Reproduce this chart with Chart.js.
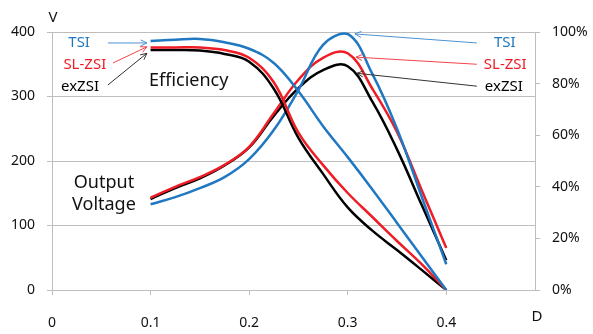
<!DOCTYPE html>
<html>
<head>
<meta charset="utf-8">
<script src="https://cdn.jsdelivr.net/npm/chart.js@4/dist/chart.umd.min.js"></script>
<style>
  html, body { margin:0; padding:0; background:#fff; }
  #wrap { width:593px; height:334px; }
</style>
</head>
<body>
<div id="wrap"><canvas id="chart" width="593" height="334"></canvas></div>
<script>
// duty ratio D
const dutyX = [0.1, 0.125, 0.15, 0.175, 0.2, 0.225, 0.25, 0.275, 0.3, 0.325, 0.35, 0.375, 0.4];
// efficiency (%), right axis
const effTSI   = [96.5, 97.0, 97.3, 96.0, 93.5, 88.0, 77.0, 63.5, 51.5, 39.0, 26.0, 13.0, 0];
const effSLZSI = [94.0, 94.0, 94.0, 93.0, 90.0, 80.5, 61.0, 48.4, 37.6, 28.3, 19.0, 10.0, 0];
const effExZSI = [93.0, 93.0, 92.8, 91.5, 88.5, 78.0, 59.0, 45.0, 32.0, 23.0, 15.5, 7.8, 0];
// output voltage (V), left axis
const voltTSI   = [133, 144, 158, 175, 203, 248, 310, 380, 397, 335, 250, 145, 40];
const voltSLZSI = [143, 160, 175, 194, 222, 274, 326, 360, 367, 312, 245, 155, 65];
const voltExZSI = [141, 158, 173, 193, 221, 270, 313, 341, 347, 292, 218, 132, 46];

const xTicks = [0, 0.1, 0.2, 0.3, 0.4];
const vTicks = [0, 100, 200, 300, 400];
const pctTicks = [0, 20, 40, 60, 80, 100];

const BLUE = '#1f78c1', RED = '#ee1c25', BLACK = '#000000';
const GRID = '#bdbdbd';
const FONT = "'Noto Sans', 'DejaVu Sans', sans-serif";

const pts = (ys) => dutyX.map((x, i) => ({x: x, y: ys[i]}));

function ds(label, ys, color, axis) {
  return {
    label: label, data: pts(ys), yAxisID: axis,
    borderColor: color, backgroundColor: color,
    borderWidth: 2.5, pointRadius: 0, tension: 0.4, fill: false
  };
}

// text labels and arrows, placed in (D, V) units
const notes = [
  {t:'TSI',    c:BLUE,  d:0.0385, v:383, a:'right'},
  {t:'SL-ZSI', c:RED,   d:0.0550, v:349, a:'right'},
  {t:'exZSI',  c:BLACK, d:0.0477, v:315, a:'right'},
  {t:'TSI',    c:BLUE,  d:0.4483, v:383, a:'left'},
  {t:'SL-ZSI', c:RED,   d:0.4381, v:349, a:'left'},
  {t:'exZSI',  c:BLACK, d:0.4391, v:315, a:'left'}
];
const arrows = [
  {c:'#4b93d3', d0:0.0568, v0:383, d1:0.0963, v1:383},
  {c:'#f0454b', d0:0.0619, v0:352, d1:0.0963, v1:377},
  {c:'#333333', d0:0.0568, v0:318, d1:0.0963, v1:367},
  {c:'#4b93d3', d0:0.4310, v0:383, d1:0.3073, v1:397},
  {c:'#f0454b', d0:0.4310, v0:350, d1:0.3083, v1:361},
  {c:'#333333', d0:0.4310, v0:316, d1:0.3093, v1:336}
];

const notePlugin = {
  id: 'notes',
  afterDraw(chart) {
    const ctx = chart.ctx, xs = chart.scales.x, ys = chart.scales.y;
    const P = (d, v) => [xs.getPixelForValue(d), ys.getPixelForValue(v)];
    ctx.save();
    ctx.textBaseline = 'middle';
    ctx.font = '15px ' + FONT;
    notes.forEach(n => {
      const p = P(n.d, n.v);
      ctx.fillStyle = n.c;
      ctx.textAlign = n.a;
      ctx.fillText(n.t, p[0], p[1]);
    });
    arrows.forEach(a => {
      const p0 = P(a.d0, a.v0), p1 = P(a.d1, a.v1);
      const ang = Math.atan2(p1[1] - p0[1], p1[0] - p0[0]);
      ctx.strokeStyle = a.c;
      ctx.lineWidth = 1;
      ctx.beginPath();
      ctx.moveTo(p0[0], p0[1]);
      ctx.lineTo(p1[0], p1[1]);
      ctx.moveTo(p1[0] - 7 * Math.cos(ang - 0.45), p1[1] - 7 * Math.sin(ang - 0.45));
      ctx.lineTo(p1[0], p1[1]);
      ctx.lineTo(p1[0] - 7 * Math.cos(ang + 0.45), p1[1] - 7 * Math.sin(ang + 0.45));
      ctx.stroke();
    });
    ctx.fillStyle = '#111';
    ctx.font = '18px ' + FONT;
    ctx.textAlign = 'left';
    let p = P(0.0984, 324);
    ctx.fillText('Efficiency', p[0], p[1]);
    ctx.textAlign = 'center';
    p = P(0.0527, 166);
    ctx.fillText('Output', p[0], p[1]);
    p = P(0.0527, 132);
    ctx.fillText('Voltage', p[0], p[1]);
    // axis names
    ctx.font = '15px ' + FONT;
    const ca = chart.chartArea;
    ctx.fillText('V', ca.left + 1, ca.top - 14);
    ctx.fillText('D', ca.right + 2, ca.bottom + 27);
    ctx.restore();
  }
};

new Chart(document.getElementById('chart'), {
  type: 'line',
  data: {
    datasets: [
      ds('TSI efficiency', effTSI, BLUE, 'y1'),
      ds('SL-ZSI efficiency', effSLZSI, RED, 'y1'),
      ds('exZSI efficiency', effExZSI, BLACK, 'y1'),
      ds('TSI voltage', voltTSI, BLUE, 'y'),
      ds('SL-ZSI voltage', voltSLZSI, RED, 'y'),
      ds('exZSI voltage', voltExZSI, BLACK, 'y')
    ]
  },
  options: {
    responsive: false,
    animation: false,
    devicePixelRatio: 1,
    layout: { padding: { top: 32, left: 0, right: 0, bottom: 0 } },
    plugins: { legend: { display: false }, tooltip: { enabled: false } },
    scales: {
      x: {
        type: 'linear', min: 0, max: 0.49,
        afterBuildTicks: (s) => { s.ticks = xTicks.map(v => ({value: v})); },
        afterFit: (s) => { s.height = 44; },
        grid: { drawOnChartArea: false, drawTicks: true, tickLength: 5, color: GRID },
        border: { display: true, color: GRID },
        ticks: { padding: 20, color: '#111', font: { family: FONT, size: 14 },
                 callback: (v) => String(v) }
      },
      y: {
        position: 'left', min: 0, max: 400,
        afterBuildTicks: (s) => { s.ticks = vTicks.map(v => ({value: v})); },
        afterFit: (s) => { s.width = 52; },
        grid: { color: GRID, tickLength: 5 },
        border: { display: true, color: GRID },
        ticks: { padding: 12, color: '#111', font: { family: FONT, size: 14 } }
      },
      y1: {
        position: 'right', min: 0, max: 100,
        afterBuildTicks: (s) => { s.ticks = pctTicks.map(v => ({value: v})); },
        afterFit: (s) => { s.width = 58; },
        grid: { drawOnChartArea: false, tickLength: 5, color: GRID },
        border: { display: true, color: GRID },
        ticks: { padding: 12, color: '#111', font: { family: FONT, size: 14 },
                 callback: (v) => v + '%' }
      }
    }
  },
  plugins: [notePlugin]
});
</script>
</body>
</html>
